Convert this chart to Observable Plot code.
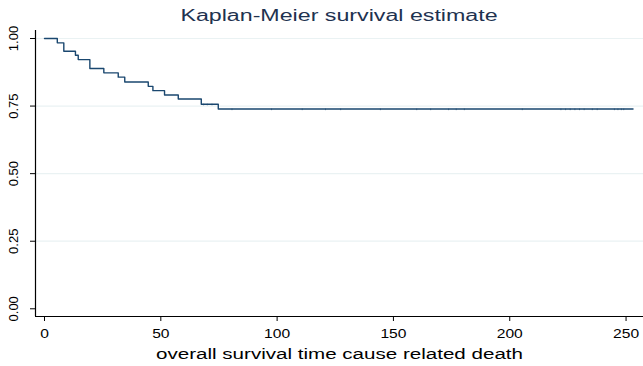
<!DOCTYPE html>
<html><head><meta charset="utf-8">
<script src="https://cdn.jsdelivr.net/npm/d3@7"></script>
<script src="https://cdn.jsdelivr.net/npm/@observablehq/plot@0.6"></script>
<style>
body{margin:0;background:#fff;font-family:"Liberation Sans",Arial,sans-serif;}
#wrap{position:relative;width:643px;height:366px;}
#title{position:absolute;left:339px;top:6px;font-size:16px;line-height:20px;color:#1e3250;white-space:nowrap;transform:translateX(-50%) scaleX(1.45);transform-origin:center;z-index:2;}
</style></head>
<body>
<div id="wrap"><div id="title">Kaplan-Meier survival estimate</div><div id="chart"></div></div>
<script>
const times = [0, 5.5, 8.3, 13.3, 14.5, 19.5, 25.5, 31.7, 34.5, 44.6, 46.6, 51.6, 57.5, 67.4, 74.7, 253];
const surv  = [1, 0.984, 0.953, 0.938, 0.922, 0.889, 0.873, 0.857, 0.839, 0.823, 0.807, 0.791, 0.776, 0.757, 0.739, 0.739];
const censorTimes = [68.4, 70, 72, 80.6, 97.6, 110.8, 120.8, 127.3, 144.4, 160, 166, 173.7, 177, 180.5, 205.4, 222, 224, 226, 228, 230, 232, 235.5, 237.6, 245, 246.5, 248, 249];
const xTicks = [0, 50, 100, 150, 200, 250];
const yTicks = [0, 0.25, 0.5, 0.75, 1];
const yGrid = [0.25, 0.5, 0.75, 1];
const xLabel = "overall survival time cause related death";

const pts = times.map((t, i) => ({t, s: surv[i]}));
const survAt = t => { let s = 1; for (const p of pts) if (p.t <= t) s = p.s; return s; };
const cens = censorTimes.map(t => ({t, s: survAt(t)}));

const xDom = [-3.87, 257.5];
const yDom = [-0.0285, 1.0296];
const lineColor = "#1a476f";
const fmtY = d3.format(".2f");

const plot = Plot.plot({
  width: 643, height: 366,
  marginLeft: 35, marginRight: 0, marginTop: 30, marginBottom: 50,
  style: {fontFamily: "'Liberation Sans', Arial, sans-serif", fontSize: "13px", color: "#000", background: "transparent"},
  x: {domain: xDom},
  y: {domain: yDom},
  marks: [
    Plot.ruleY(yGrid, {stroke: "#eaf2f3", strokeWidth: 1.2}),
    Plot.ruleX([xDom[0]], {stroke: "#000", strokeWidth: 1.2}),
    Plot.ruleY([yDom[0]], {stroke: "#000", strokeWidth: 1.2}),
    Plot.axisX({ticks: xTicks, tickSize: 5, tickPadding: 7, tickFormat: d => String(d), label: null, fontSize: 13, stroke: "#000"}),
    Plot.axisY({ticks: yTicks, tickSize: 5, tickFormat: () => "", label: null}),
    Plot.text(yTicks, {x: xDom[0], y: d => d, text: d => fmtY(d), rotate: -90, dx: -22, textAnchor: "middle", lineAnchor: "middle", fontSize: 13, fill: "#000"}),
    Plot.text([xLabel], {frameAnchor: "bottom", dy: 42, fontSize: 14, fill: "#000", className: "xlab"}),
    Plot.line(pts, {x: "t", y: "s", curve: "step-after", stroke: lineColor, strokeWidth: 1.4}),
    Plot.ruleX(cens, {x: "t", y1: "s", y2: d => d.s - 0.006, stroke: lineColor, strokeWidth: 0.8, strokeOpacity: 0.8})
  ]
});
plot.style.position = "absolute";
plot.style.left = "0px";
plot.style.top = "0px";
document.getElementById("chart").appendChild(plot);
// horizontal stretch of the reference rendering
d3.select(plot).selectAll('g[aria-label="x-axis tick label"] text').each(function() {
  const w = this.getComputedTextLength();
  this.setAttribute("textLength", w * 1.2);
  this.setAttribute("lengthAdjust", "spacingAndGlyphs");
});
d3.select(plot).selectAll('.xlab text').each(function() {
  this.setAttribute("textLength", 367);
  this.setAttribute("lengthAdjust", "spacingAndGlyphs");
});
</script>
</body></html>
